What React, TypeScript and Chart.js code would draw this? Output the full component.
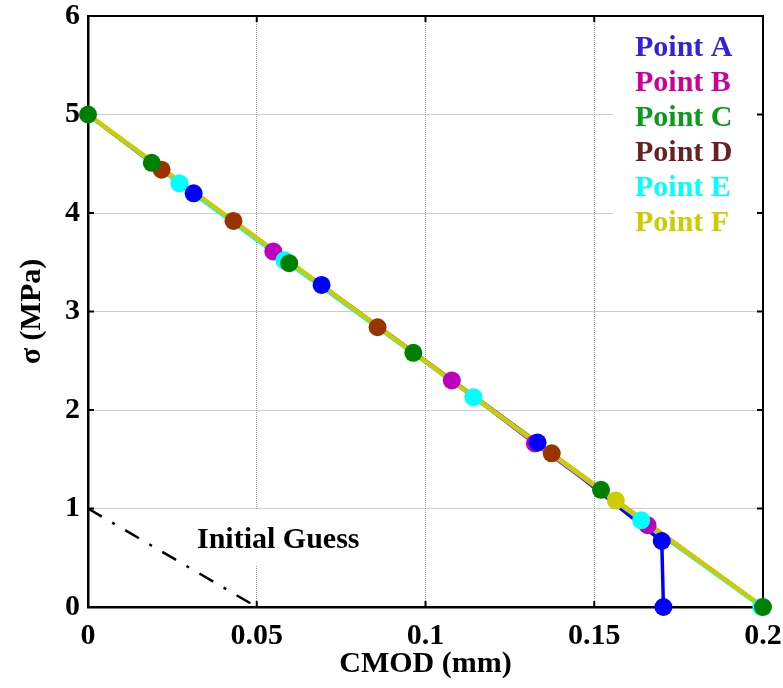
import React, { useEffect, useRef } from "react";
import { Chart, registerables } from "chart.js";

Chart.register(...registerables);

// ---- Axis ticks ----
const xTickValues = [0, 0.05, 0.1, 0.15, 0.2];
const xTickLabels = ["0", "0.05", "0.1", "0.15", "0.2"];
const yTickValues = [0, 1, 2, 3, 4, 5, 6];
const yTickLabels = ["0", "1", "2", "3", "4", "5", "6"];

// ---- Series (CMOD in mm, sigma in MPa) ----
const seriesNames = ["Point A", "Point B", "Point C", "Point D", "Point E", "Point F"];
const crackStartX = 0;
const crackStartY = 5;
const crackEndX = 0.2;
const crackEndY = 0;

const pointA_x = [0.0313, 0.0692, 0.1332, 0.17, 0.1705];
const pointA_y = [4.2, 3.27, 1.67, 0.67, 0];
const pointB_x = [0.0549, 0.1078, 0.1324, 0.1658];
const pointB_y = [3.61, 2.3, 1.66, 0.83];
const pointC_x = [0, 0.0189, 0.0596, 0.0964, 0.152, 0.2];
const pointC_y = [5, 4.51, 3.49, 2.58, 1.19, 0];
const pointD_x = [0.0218, 0.0431, 0.0858, 0.1374];
const pointD_y = [4.44, 3.92, 2.84, 1.56];
const pointE_x = [0.0271, 0.0582, 0.1142, 0.1639, 0.1995];
const pointE_y = [4.3, 3.52, 2.13, 0.88, 0];
const pointF_x = [0.1564];
const pointF_y = [1.08];

const guessX = [0, 0.05];
const guessY = [1, 0];

const FONT = "'Liberation Serif', 'Times New Roman', serif";

const seriesDefs = [
  { name: seriesNames[0], xs: pointA_x, ys: pointA_y, color: "#0000ff", text: "#3322dd", toEnd: false, lineW: 3.5, lineOrder: 20, markOrder: 2 },
  { name: seriesNames[1], xs: pointB_x, ys: pointB_y, color: "#bf00bf", text: "#cc0099", toEnd: true, lineW: 3.5, lineOrder: 19, markOrder: 6 },
  { name: seriesNames[2], xs: pointC_x, ys: pointC_y, color: "#008000", text: "#0b9a1c", toEnd: false, lineW: 3.5, lineOrder: 18, markOrder: 3 },
  { name: seriesNames[3], xs: pointD_x, ys: pointD_y, color: "#993300", text: "#662222", toEnd: true, lineW: 3.5, lineOrder: 17, markOrder: 5 },
  { name: seriesNames[4], xs: pointE_x, ys: pointE_y, color: "#00ffff", text: "#00ffff", toEnd: true, lineW: 3.5, lineOrder: 16, markOrder: 4 },
  { name: seriesNames[5], xs: pointF_x, ys: pointF_y, color: "#cccc00", text: "#cccc00", toEnd: true, lineW: 4.5, lineOrder: 15, markOrder: 1 },
];

const framePlugin = {
  id: "frame",
  beforeDatasetsDraw(chart: any) {
    const { ctx, chartArea, scales } = chart;
    const { left, top, right, bottom } = chartArea;
    const xs = scales.x;
    const ys = scales.y;
    ctx.save();
    // white backgrounds behind legend text and annotation
    ctx.fillStyle = "#ffffff";
    ctx.fillRect(613, top + 1, right - 613 - 1, 245 - top);
    ctx.fillRect(190, 510, 182, 56);
    // top and right box lines
    ctx.strokeStyle = "#000";
    ctx.lineWidth = 2;
    ctx.beginPath();
    ctx.moveTo(left, top);
    ctx.lineTo(right, top);
    ctx.lineTo(right, bottom);
    ctx.stroke();
    // inward ticks
    const tl = 6;
    ctx.beginPath();
    xTickValues.forEach((v) => {
      const px = xs.getPixelForValue(v);
      ctx.moveTo(px, bottom);
      ctx.lineTo(px, bottom - tl);
      ctx.moveTo(px, top);
      ctx.lineTo(px, top + tl);
    });
    yTickValues.forEach((v) => {
      const py = ys.getPixelForValue(v);
      ctx.moveTo(left, py);
      ctx.lineTo(left + tl, py);
      ctx.moveTo(right, py);
      ctx.lineTo(right - tl, py);
    });
    ctx.stroke();
    ctx.restore();
  },
  afterDatasetsDraw(chart: any) {
    const { ctx } = chart;
    ctx.save();
    ctx.font = `bold 30px ${FONT}`;
    ctx.textAlign = "left";
    ctx.textBaseline = "alphabetic";
    seriesDefs.forEach((s, i) => {
      ctx.fillStyle = s.text;
      ctx.fillText(s.name, 635, 56 + i * 35);
    });
    ctx.fillStyle = "#000";
    ctx.fillText("Initial Guess", 197, 548);
    ctx.restore();
  },
};

export default function App() {
  const ref = useRef<HTMLCanvasElement | null>(null);

  useEffect(() => {
    if (!ref.current) return;
    const datasets: any[] = [];
    seriesDefs.forEach((s) => {
      const pts = s.xs.map((x, i) => ({ x, y: s.ys[i] }));
      const linePts: any[] = [];
      if (!(s.xs[0] === crackStartX && s.ys[0] === crackStartY)) linePts.push({ x: crackStartX, y: crackStartY });
      linePts.push(...pts);
      if (s.toEnd) linePts.push({ x: crackEndX, y: crackEndY });
      datasets.push({
        label: s.name + " line",
        data: linePts,
        showLine: true,
        borderColor: s.color,
        backgroundColor: s.color,
        borderWidth: s.lineW,
        pointRadius: 0,
        order: s.lineOrder,
        clip: false,
      });
      datasets.push({
        label: s.name,
        data: pts,
        showLine: false,
        backgroundColor: s.color,
        borderColor: s.color,
        borderWidth: 0,
        pointRadius: 9,
        order: s.markOrder,
        clip: false,
      });
    });
    datasets.push({
      label: "Initial Guess",
      data: guessX.map((x, i) => ({ x, y: guessY[i] })),
      showLine: true,
      borderColor: "#000",
      borderWidth: 2.5,
      borderDash: [16, 12, 3, 12],
      pointRadius: 0,
      order: 14,
      clip: false,
    });

    const chart = new Chart(ref.current, {
      type: "scatter",
      data: { datasets },
      plugins: [framePlugin],
      options: {
        animation: false,
        responsive: false,
        maintainAspectRatio: false,
        layout: { padding: { top: 16, right: 20, left: 0, bottom: 0 } },
        plugins: { legend: { display: false }, tooltip: { enabled: false } },
        scales: {
          x: {
            type: "linear",
            min: 0,
            max: 0.2,
            afterBuildTicks: (scale: any) => {
              scale.ticks = xTickValues.map((v) => ({ value: v }));
            },
            afterFit: (scale: any) => {
              scale.height = 81;
              scale.paddingLeft = 0;
              scale.paddingRight = 0;
            },
            ticks: {
              autoSkip: false,
              maxRotation: 0,
              padding: 11,
              color: "#000",
              font: { family: FONT, size: 30, weight: "bold" },
              callback: (v: any, i: number) => xTickLabels[i],
            },
            grid: { drawTicks: false, color: "#9a9a9a", lineWidth: 1 },
            border: { display: true, color: "#000", width: 2.5, dash: [1, 1] },
            title: {
              display: true,
              text: "CMOD (mm)",
              color: "#000",
              font: { family: FONT, size: 30, weight: "bold" },
              padding: { top: 0, bottom: 6 },
            },
          },
          y: {
            type: "linear",
            min: 0,
            max: 6,
            afterBuildTicks: (scale: any) => {
              scale.ticks = yTickValues.map((v) => ({ value: v }));
            },
            afterFit: (scale: any) => {
              scale.width = 88;
              scale.paddingTop = 0;
              scale.paddingBottom = 0;
            },
            ticks: {
              autoSkip: false,
              padding: 8,
              color: "#000",
              font: { family: FONT, size: 30, weight: "bold" },
              callback: (v: any, i: number) => yTickLabels[i],
            },
            grid: { drawTicks: false, color: "#9a9a9a", lineWidth: 1 },
            border: { display: true, color: "#000", width: 2.5, dash: [1, 1] },
            title: {
              display: true,
              text: "σ (MPa)",
              color: "#000",
              font: { family: FONT, size: 30, weight: "bold" },
              padding: { top: 14, bottom: 0 },
            },
          },
        },
      },
    });
    return () => chart.destroy();
  }, []);

  return (
    <div style={{ position: "absolute", left: 0, top: 0, width: 783, height: 688, background: "#fff" }}>
      <canvas ref={ref} width={783} height={688} style={{ display: "block" }} />
    </div>
  );
}
